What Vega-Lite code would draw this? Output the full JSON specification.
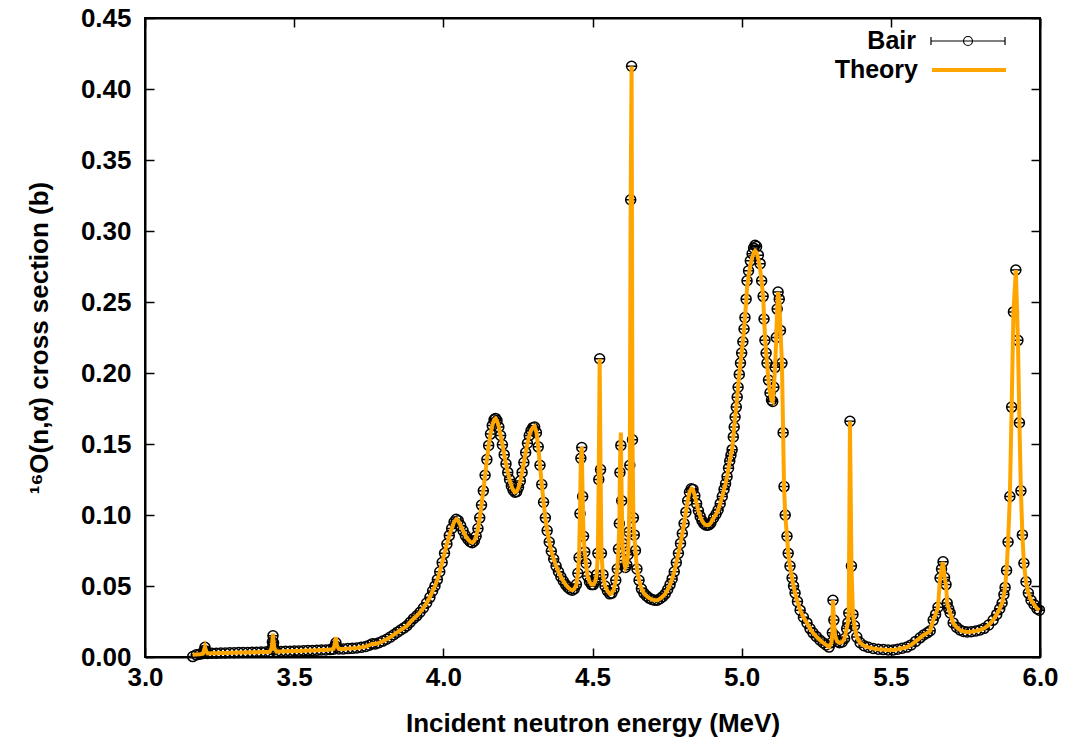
{
"$schema": "https://vega.github.io/schema/vega-lite/v6.json",
"width": 895, "height": 639,
"autosize": "none",
"padding": {"left": 145, "top": 18, "right": 41, "bottom": 83},
"background": "white",
"config": {
  "font": "Liberation Sans",
  "view": {"stroke": "black", "strokeWidth": 2},
  "axis": {"grid": false, "domainColor": "black", "domainWidth": 2, "tickColor": "black", "tickWidth": 1.5, "tickSize": -9,
    "labelFont": "Liberation Sans", "labelFontSize": 26, "labelFontWeight": "bold", "labelColor": "black",
    "titleFont": "Liberation Sans", "titleFontSize": 26, "titleFontWeight": "bold", "titleColor": "black"},
  "legend": {"orient": "none", "title": null, "padding": 0,
    "symbolSize": 784, "rowPadding": 0, "labelAlign": "right", "labelOffset": -67,
    "labelFont": "Liberation Sans", "labelFontSize": 25, "labelFontWeight": "bold", "labelColor": "black", "labelLimit": 400}
},
"resolve": {"scale": {"color": "independent"}, "legend": {"color": "independent"}},
"data": {"values": [
{"E":3.160,"b":0.0003,"t":0.0015},{"E":3.172,"b":0.0015,"t":0.0018},{"E":3.184,"b":0.0020,"t":0.0020},{"E":3.194,"b":0.0024,"t":0.0023},
{"E":3.198,"b":0.0045,"t":0.0050},{"E":3.201,"b":0.0068,"t":0.0070},{"E":3.204,"b":0.0042,"t":0.0045},{"E":3.210,"b":0.0025,"t":0.0025},
{"E":3.224,"b":0.0026,"t":0.0026},{"E":3.239,"b":0.0027,"t":0.0027},{"E":3.254,"b":0.0028,"t":0.0028},{"E":3.269,"b":0.0029,"t":0.0029},
{"E":3.284,"b":0.0030,"t":0.0030},{"E":3.299,"b":0.0030,"t":0.0030},{"E":3.314,"b":0.0031,"t":0.0031},{"E":3.329,"b":0.0032,"t":0.0032},
{"E":3.344,"b":0.0032,"t":0.0032},{"E":3.359,"b":0.0033,"t":0.0033},{"E":3.374,"b":0.0034,"t":0.0034},{"E":3.389,"b":0.0035,"t":0.0035},
{"E":3.404,"b":0.0036,"t":0.0036},{"E":3.418,"b":0.0037,"t":0.0037},{"E":3.424,"b":0.0055,"t":0.0060},{"E":3.427,"b":0.0105,"t":0.0110},
{"E":3.429,"b":0.0150,"t":0.0165},{"E":3.431,"b":0.0100,"t":0.0105},{"E":3.434,"b":0.0055,"t":0.0060},{"E":3.441,"b":0.0038,"t":0.0038},
{"E":3.456,"b":0.0039,"t":0.0039},{"E":3.471,"b":0.0040,"t":0.0040},{"E":3.486,"b":0.0041,"t":0.0041},{"E":3.501,"b":0.0042,"t":0.0042},
{"E":3.516,"b":0.0043,"t":0.0043},{"E":3.531,"b":0.0044,"t":0.0044},{"E":3.546,"b":0.0045,"t":0.0045},{"E":3.561,"b":0.0046,"t":0.0046},
{"E":3.576,"b":0.0047,"t":0.0047},{"E":3.591,"b":0.0049,"t":0.0049},{"E":3.606,"b":0.0050,"t":0.0050},{"E":3.621,"b":0.0052,"t":0.0052},
{"E":3.632,"b":0.0055,"t":0.0058},{"E":3.637,"b":0.0080,"t":0.0100},{"E":3.640,"b":0.0100,"t":0.0140},{"E":3.643,"b":0.0070,"t":0.0080},
{"E":3.650,"b":0.0056,"t":0.0056},{"E":3.665,"b":0.0057,"t":0.0057},{"E":3.680,"b":0.0059,"t":0.0059},{"E":3.695,"b":0.0061,"t":0.0061},
{"E":3.710,"b":0.0064,"t":0.0064},{"E":3.725,"b":0.0068,"t":0.0068},{"E":3.740,"b":0.0074,"t":0.0074},{"E":3.752,"b":0.0083,"t":0.0083},
{"E":3.762,"b":0.0093,"t":0.0093},{"E":3.772,"b":0.0092,"t":0.0092},{"E":3.784,"b":0.0100,"t":0.0100},{"E":3.797,"b":0.0112,"t":0.0112},
{"E":3.810,"b":0.0125,"t":0.0125},{"E":3.822,"b":0.0140,"t":0.0140},{"E":3.834,"b":0.0157,"t":0.0157},{"E":3.846,"b":0.0175,"t":0.0175},
{"E":3.857,"b":0.0190,"t":0.0190},{"E":3.868,"b":0.0205,"t":0.0205},{"E":3.878,"b":0.0220,"t":0.0220},{"E":3.889,"b":0.0245,"t":0.0245},
{"E":3.900,"b":0.0270,"t":0.0270},{"E":3.911,"b":0.0290,"t":0.0290},{"E":3.922,"b":0.0315,"t":0.0315},{"E":3.933,"b":0.0345,"t":0.0345},
{"E":3.944,"b":0.0380,"t":0.0380},{"E":3.955,"b":0.0420,"t":0.0420},{"E":3.964,"b":0.0465,"t":0.0465},{"E":3.972,"b":0.0500,"t":0.0500},
{"E":3.980,"b":0.0545,"t":0.0545},{"E":3.988,"b":0.0600,"t":0.0600},{"E":3.996,"b":0.0665,"t":0.0665},{"E":4.004,"b":0.0730,"t":0.0730},
{"E":4.012,"b":0.0795,"t":0.0795},{"E":4.020,"b":0.0855,"t":0.0855},{"E":4.028,"b":0.0905,"t":0.0905},{"E":4.036,"b":0.0950,"t":0.0950},
{"E":4.043,"b":0.0970,"t":0.0970},{"E":4.050,"b":0.0960,"t":0.0960},{"E":4.058,"b":0.0925,"t":0.0925},{"E":4.066,"b":0.0890,"t":0.0890},
{"E":4.074,"b":0.0855,"t":0.0855},{"E":4.082,"b":0.0830,"t":0.0830},{"E":4.090,"b":0.0812,"t":0.0812},{"E":4.097,"b":0.0805,"t":0.0805},
{"E":4.104,"b":0.0818,"t":0.0818},{"E":4.110,"b":0.0850,"t":0.0850},{"E":4.116,"b":0.0905,"t":0.0905},{"E":4.122,"b":0.0980,"t":0.0980},
{"E":4.128,"b":0.1070,"t":0.1070},{"E":4.134,"b":0.1170,"t":0.1170},{"E":4.140,"b":0.1280,"t":0.1280},{"E":4.146,"b":0.1390,"t":0.1390},
{"E":4.152,"b":0.1490,"t":0.1490},{"E":4.158,"b":0.1570,"t":0.1570},{"E":4.164,"b":0.1630,"t":0.1630},{"E":4.170,"b":0.1670,"t":0.1670},
{"E":4.175,"b":0.1680,"t":0.1680},{"E":4.180,"b":0.1665,"t":0.1665},{"E":4.186,"b":0.1620,"t":0.1620},{"E":4.192,"b":0.1560,"t":0.1560},
{"E":4.198,"b":0.1495,"t":0.1495},{"E":4.204,"b":0.1425,"t":0.1425},{"E":4.210,"b":0.1360,"t":0.1360},{"E":4.216,"b":0.1300,"t":0.1300},
{"E":4.222,"b":0.1250,"t":0.1250},{"E":4.228,"b":0.1205,"t":0.1205},{"E":4.234,"b":0.1175,"t":0.1175},{"E":4.240,"b":0.1160,"t":0.1160},
{"E":4.246,"b":0.1165,"t":0.1165},{"E":4.252,"b":0.1195,"t":0.1195},{"E":4.258,"b":0.1240,"t":0.1240},{"E":4.264,"b":0.1300,"t":0.1300},
{"E":4.270,"b":0.1370,"t":0.1370},{"E":4.276,"b":0.1440,"t":0.1440},{"E":4.282,"b":0.1505,"t":0.1505},{"E":4.288,"b":0.1560,"t":0.1560},
{"E":4.294,"b":0.1595,"t":0.1595},{"E":4.300,"b":0.1615,"t":0.1615},{"E":4.306,"b":0.1620,"t":0.1625},{"E":4.312,"b":0.1580,"t":0.1585},
{"E":4.318,"b":0.1480,"t":0.1480},{"E":4.324,"b":0.1350,"t":0.1350},{"E":4.330,"b":0.1215,"t":0.1215},{"E":4.336,"b":0.1090,"t":0.1090},
{"E":4.342,"b":0.0980,"t":0.0980},{"E":4.348,"b":0.0890,"t":0.0890},{"E":4.355,"b":0.0810,"t":0.0810},{"E":4.362,"b":0.0745,"t":0.0745},
{"E":4.370,"b":0.0690,"t":0.0690},{"E":4.378,"b":0.0640,"t":0.0640},{"E":4.386,"b":0.0600,"t":0.0600},{"E":4.394,"b":0.0565,"t":0.0565},
{"E":4.402,"b":0.0535,"t":0.0535},{"E":4.410,"b":0.0510,"t":0.0510},{"E":4.418,"b":0.0490,"t":0.0490},{"E":4.425,"b":0.0477,"t":0.0477},
{"E":4.432,"b":0.0470,"t":0.0470},{"E":4.439,"b":0.0480,"t":0.0480},{"E":4.446,"b":0.0510,"t":0.0510},{"E":4.451,"b":0.0590,"t":0.0590},
{"E":4.455,"b":0.0700,"t":0.0700},{"E":4.458,"b":0.1010,"t":0.1010},{"E":4.461,"b":0.1400,"t":0.1400},{"E":4.464,"b":0.1475,"t":0.1480},
{"E":4.467,"b":0.1130,"t":0.1130},{"E":4.470,"b":0.0850,"t":0.0850},{"E":4.474,"b":0.0740,"t":0.0740},{"E":4.478,"b":0.0660,"t":0.0660},
{"E":4.483,"b":0.0570,"t":0.0570},{"E":4.490,"b":0.0530,"t":0.0530},{"E":4.497,"b":0.0510,"t":0.0510},{"E":4.503,"b":0.0510,"t":0.0510},
{"E":4.509,"b":0.0530,"t":0.0530},{"E":4.514,"b":0.0580,"t":0.0580},{"E":4.518,"b":0.0730,"t":0.0730},{"E":4.521,"b":0.1250,"t":0.1300},
{"E":4.524,"b":0.2100,"t":0.2100},{"E":4.527,"b":0.1320,"t":0.1320},{"E":4.530,"b":0.0730,"t":0.0730},{"E":4.535,"b":0.0580,"t":0.0580},
{"E":4.542,"b":0.0500,"t":0.0500},{"E":4.550,"b":0.0465,"t":0.0465},{"E":4.558,"b":0.0445,"t":0.0445},{"E":4.565,"b":0.0450,"t":0.0450},
{"E":4.572,"b":0.0480,"t":0.0480},{"E":4.578,"b":0.0540,"t":0.0540},{"E":4.583,"b":0.0620,"t":0.0620},{"E":4.587,"b":0.0760,"t":0.0760},
{"E":4.590,"b":0.0940,"t":0.0940},{"E":4.592,"b":0.1300,"t":0.1350},{"E":4.595,"b":0.1490,"t":0.1580},{"E":4.598,"b":0.1100,"t":0.1100},
{"E":4.601,"b":0.0800,"t":0.0800},{"E":4.605,"b":0.0680,"t":0.0680},{"E":4.610,"b":0.0630,"t":0.0630},{"E":4.615,"b":0.0650,"t":0.0650},
{"E":4.619,"b":0.0720,"t":0.0720},{"E":4.622,"b":0.0880,"t":0.0880},{"E":4.625,"b":0.1350,"t":0.1350},{"E":4.628,"b":0.3220,"t":0.3220},
{"E":4.631,"b":0.4160,"t":0.4160},{"E":4.634,"b":0.1530,"t":0.1530},{"E":4.637,"b":0.0980,"t":0.0980},{"E":4.640,"b":0.0860,"t":0.0860},
{"E":4.644,"b":0.0750,"t":0.0750},{"E":4.649,"b":0.0620,"t":0.0620},{"E":4.656,"b":0.0540,"t":0.0540},{"E":4.664,"b":0.0480,"t":0.0480},
{"E":4.672,"b":0.0450,"t":0.0450},{"E":4.681,"b":0.0430,"t":0.0430},{"E":4.690,"b":0.0415,"t":0.0415},{"E":4.699,"b":0.0405,"t":0.0405},
{"E":4.708,"b":0.0400,"t":0.0400},{"E":4.717,"b":0.0400,"t":0.0400},{"E":4.726,"b":0.0410,"t":0.0410},{"E":4.735,"b":0.0425,"t":0.0425},
{"E":4.744,"b":0.0445,"t":0.0445},{"E":4.752,"b":0.0475,"t":0.0475},{"E":4.760,"b":0.0510,"t":0.0510},{"E":4.767,"b":0.0550,"t":0.0550},
{"E":4.774,"b":0.0600,"t":0.0600},{"E":4.781,"b":0.0665,"t":0.0665},{"E":4.788,"b":0.0730,"t":0.0730},{"E":4.795,"b":0.0800,"t":0.0800},
{"E":4.801,"b":0.0870,"t":0.0870},{"E":4.807,"b":0.0940,"t":0.0940},{"E":4.813,"b":0.1020,"t":0.1020},{"E":4.819,"b":0.1100,"t":0.1100},
{"E":4.825,"b":0.1160,"t":0.1160},{"E":4.831,"b":0.1185,"t":0.1185},{"E":4.837,"b":0.1180,"t":0.1180},{"E":4.843,"b":0.1135,"t":0.1135},
{"E":4.849,"b":0.1080,"t":0.1080},{"E":4.855,"b":0.1030,"t":0.1030},{"E":4.861,"b":0.0990,"t":0.0990},{"E":4.867,"b":0.0960,"t":0.0960},
{"E":4.873,"b":0.0940,"t":0.0940},{"E":4.879,"b":0.0930,"t":0.0930},{"E":4.885,"b":0.0928,"t":0.0928},{"E":4.891,"b":0.0932,"t":0.0932},
{"E":4.897,"b":0.0945,"t":0.0945},{"E":4.906,"b":0.0980,"t":0.0980},{"E":4.914,"b":0.1005,"t":0.1005},{"E":4.921,"b":0.1035,"t":0.1035},
{"E":4.928,"b":0.1080,"t":0.1080},{"E":4.935,"b":0.1130,"t":0.1130},{"E":4.941,"b":0.1180,"t":0.1180},{"E":4.946,"b":0.1220,"t":0.1220},
{"E":4.951,"b":0.1270,"t":0.1270},{"E":4.956,"b":0.1330,"t":0.1330},{"E":4.960,"b":0.1380,"t":0.1380},{"E":4.964,"b":0.1420,"t":0.1420},
{"E":4.968,"b":0.1460,"t":0.1460},{"E":4.972,"b":0.1550,"t":0.1550},{"E":4.975,"b":0.1620,"t":0.1620},{"E":4.978,"b":0.1690,"t":0.1690},
{"E":4.982,"b":0.1760,"t":0.1760},{"E":4.985,"b":0.1830,"t":0.1830},{"E":4.988,"b":0.1900,"t":0.1900},{"E":4.992,"b":0.1990,"t":0.1990},
{"E":4.996,"b":0.2070,"t":0.2070},{"E":5.000,"b":0.2140,"t":0.2140},{"E":5.004,"b":0.2220,"t":0.2220},{"E":5.008,"b":0.2310,"t":0.2310},
{"E":5.011,"b":0.2390,"t":0.2390},{"E":5.015,"b":0.2520,"t":0.2500},{"E":5.018,"b":0.2650,"t":0.2600},{"E":5.023,"b":0.2720,"t":0.2680},
{"E":5.029,"b":0.2790,"t":0.2760},{"E":5.035,"b":0.2840,"t":0.2810},{"E":5.040,"b":0.2880,"t":0.2845},{"E":5.045,"b":0.2900,"t":0.2860},
{"E":5.050,"b":0.2890,"t":0.2850},{"E":5.056,"b":0.2830,"t":0.2800},{"E":5.062,"b":0.2770,"t":0.2730},{"E":5.067,"b":0.2650,"t":0.2640},
{"E":5.072,"b":0.2540,"t":0.2540},{"E":5.075,"b":0.2380,"t":0.2400},{"E":5.078,"b":0.2230,"t":0.2260},{"E":5.082,"b":0.2140,"t":0.2140},
{"E":5.085,"b":0.2070,"t":0.2070},{"E":5.090,"b":0.1950,"t":0.1950},{"E":5.095,"b":0.1860,"t":0.1860},{"E":5.100,"b":0.1810,"t":0.1810},
{"E":5.104,"b":0.1800,"t":0.1800},{"E":5.108,"b":0.1900,"t":0.1900},{"E":5.112,"b":0.2040,"t":0.2040},{"E":5.116,"b":0.2250,"t":0.2250},
{"E":5.119,"b":0.2450,"t":0.2450},{"E":5.122,"b":0.2570,"t":0.2570},{"E":5.126,"b":0.2520,"t":0.2520},{"E":5.130,"b":0.2300,"t":0.2300},
{"E":5.135,"b":0.2070,"t":0.2070},{"E":5.139,"b":0.1580,"t":0.1580},{"E":5.142,"b":0.1200,"t":0.1200},{"E":5.146,"b":0.1000,"t":0.1000},
{"E":5.152,"b":0.0850,"t":0.0850},{"E":5.156,"b":0.0730,"t":0.0730},{"E":5.162,"b":0.0640,"t":0.0640},{"E":5.169,"b":0.0556,"t":0.0556},
{"E":5.174,"b":0.0500,"t":0.0500},{"E":5.179,"b":0.0450,"t":0.0450},{"E":5.187,"b":0.0390,"t":0.0390},{"E":5.196,"b":0.0330,"t":0.0330},
{"E":5.207,"b":0.0280,"t":0.0280},{"E":5.219,"b":0.0240,"t":0.0240},{"E":5.229,"b":0.0200,"t":0.0200},{"E":5.239,"b":0.0170,"t":0.0170},
{"E":5.250,"b":0.0145,"t":0.0145},{"E":5.262,"b":0.0120,"t":0.0120},{"E":5.273,"b":0.0100,"t":0.0100},{"E":5.283,"b":0.0085,"t":0.0085},
{"E":5.293,"b":0.0070,"t":0.0070},{"E":5.301,"b":0.0100,"t":0.0100},{"E":5.304,"b":0.0170,"t":0.0170},{"E":5.306,"b":0.0400,"t":0.0400},
{"E":5.309,"b":0.0260,"t":0.0260},{"E":5.313,"b":0.0150,"t":0.0150},{"E":5.320,"b":0.0110,"t":0.0110},{"E":5.328,"b":0.0100,"t":0.0100},
{"E":5.337,"b":0.0106,"t":0.0106},{"E":5.345,"b":0.0130,"t":0.0130},{"E":5.352,"b":0.0200,"t":0.0200},{"E":5.356,"b":0.0240,"t":0.0240},
{"E":5.359,"b":0.0310,"t":0.0310},{"E":5.363,"b":0.1660,"t":0.1660},{"E":5.368,"b":0.0640,"t":0.0640},{"E":5.373,"b":0.0300,"t":0.0300},
{"E":5.378,"b":0.0220,"t":0.0220},{"E":5.386,"b":0.0140,"t":0.0140},{"E":5.397,"b":0.0100,"t":0.0100},{"E":5.410,"b":0.0080,"t":0.0080},
{"E":5.425,"b":0.0068,"t":0.0068},{"E":5.441,"b":0.0060,"t":0.0060},{"E":5.458,"b":0.0055,"t":0.0055},{"E":5.475,"b":0.0052,"t":0.0052},
{"E":5.491,"b":0.0050,"t":0.0050},{"E":5.508,"b":0.0050,"t":0.0050},{"E":5.523,"b":0.0055,"t":0.0055},{"E":5.538,"b":0.0062,"t":0.0062},
{"E":5.554,"b":0.0070,"t":0.0070},{"E":5.568,"b":0.0085,"t":0.0085},{"E":5.583,"b":0.0110,"t":0.0110},{"E":5.598,"b":0.0135,"t":0.0135},
{"E":5.610,"b":0.0155,"t":0.0155},{"E":5.622,"b":0.0170,"t":0.0170},{"E":5.632,"b":0.0185,"t":0.0185},{"E":5.642,"b":0.0260,"t":0.0260},
{"E":5.650,"b":0.0300,"t":0.0300},{"E":5.658,"b":0.0350,"t":0.0350},{"E":5.665,"b":0.0556,"t":0.0556},{"E":5.670,"b":0.0620,"t":0.0620},
{"E":5.675,"b":0.0670,"t":0.0670},{"E":5.680,"b":0.0560,"t":0.0560},{"E":5.685,"b":0.0510,"t":0.0510},{"E":5.689,"b":0.0380,"t":0.0380},
{"E":5.694,"b":0.0340,"t":0.0340},{"E":5.699,"b":0.0310,"t":0.0310},{"E":5.709,"b":0.0240,"t":0.0240},{"E":5.720,"b":0.0210,"t":0.0210},
{"E":5.732,"b":0.0190,"t":0.0190},{"E":5.744,"b":0.0180,"t":0.0180},{"E":5.756,"b":0.0176,"t":0.0176},{"E":5.770,"b":0.0178,"t":0.0178},
{"E":5.785,"b":0.0183,"t":0.0183},{"E":5.799,"b":0.0190,"t":0.0190},{"E":5.813,"b":0.0202,"t":0.0202},{"E":5.828,"b":0.0225,"t":0.0225},
{"E":5.843,"b":0.0260,"t":0.0260},{"E":5.855,"b":0.0300,"t":0.0300},{"E":5.865,"b":0.0340,"t":0.0340},{"E":5.873,"b":0.0380,"t":0.0380},
{"E":5.879,"b":0.0440,"t":0.0440},{"E":5.883,"b":0.0490,"t":0.0490},{"E":5.888,"b":0.0610,"t":0.0610},{"E":5.893,"b":0.0810,"t":0.0810},
{"E":5.899,"b":0.1130,"t":0.1130},{"E":5.905,"b":0.1760,"t":0.1760},{"E":5.911,"b":0.2430,"t":0.2430},{"E":5.919,"b":0.2725,"t":0.2725},
{"E":5.926,"b":0.2230,"t":0.2230},{"E":5.931,"b":0.1650,"t":0.1650},{"E":5.936,"b":0.1170,"t":0.1170},{"E":5.941,"b":0.0860,"t":0.0860},
{"E":5.946,"b":0.0660,"t":0.0660},{"E":5.953,"b":0.0530,"t":0.0530},{"E":5.961,"b":0.0450,"t":0.0450},{"E":5.970,"b":0.0400,"t":0.0400},
{"E":5.980,"b":0.0370,"t":0.0370},{"E":5.990,"b":0.0340,"t":0.0340},{"E":5.998,"b":0.0330,"t":0.0330}
]},
"layer": [
 {"mark": {"type": "point", "shape": "M-1,0A1,1,0,1,1,1,0A1,1,0,1,1,-1,0ZM-1,0L1,0", "filled": false, "size": 100, "strokeWidth": 1.5, "opacity": 1},
  "encoding": {
   "x": {"field": "E", "type": "quantitative", "scale": {"domain": [3, 6], "nice": false, "zero": false},
     "axis": {"orient": "bottom", "values": [3, 3.5, 4, 4.5, 5, 5.5, 6], "format": ".1f", "labelFlush": false, "labelOverlap": false,
       "title": "Incident neutron energy (MeV)", "labelPadding": 16, "titlePadding": 20}},
   "y": {"field": "b", "type": "quantitative", "scale": {"domain": [0, 0.45], "nice": false, "zero": false},
     "axis": {"orient": "left", "values": [0, 0.05, 0.1, 0.15, 0.2, 0.25, 0.3, 0.35, 0.4, 0.45], "format": ".2f", "labelOverlap": false,
       "title": "¹⁶O(n,α) cross section (b)", "labelPadding": 23, "titlePadding": 28}},
   "color": {"datum": "Bair", "type": "nominal",
     "scale": {"domain": ["Bair"], "range": ["black"]},
     "legend": {"legendX": 808, "legendY": 8,
       "symbolType": "M-2.643,0H-0.32M0.32,0H2.643M-2.643,-0.29V0.29M2.643,-0.29V0.29M0.32,0A0.32,0.32,0,1,1,-0.32,0A0.32,0.32,0,1,1,0.32,0M-0.32,0H0.32",
       "symbolStrokeWidth": 1.2, "symbolStrokeColor": "black", "symbolFillColor": "transparent", "symbolOpacity": 1}}
  }},
 {"mark": {"type": "line", "strokeWidth": 4, "clip": true},
  "encoding": {
   "x": {"field": "E", "type": "quantitative",
     "axis": {"orient": "top", "values": [3, 3.5, 4, 4.5, 5, 5.5, 6], "labels": false, "title": null}},
   "y": {"field": "t", "type": "quantitative",
     "axis": {"orient": "right", "values": [0, 0.05, 0.1, 0.15, 0.2, 0.25, 0.3, 0.35, 0.4, 0.45], "labels": false, "title": null}},
   "color": {"datum": "Theory", "type": "nominal",
     "scale": {"domain": ["Theory"], "range": ["#FFA500"]},
     "legend": {"legendX": 808, "legendY": 36,
       "symbolType": "M-2.643,0H2.643", "symbolStrokeWidth": 4, "symbolStrokeColor": "#FFA500", "symbolOpacity": 1}}
  }}
]
}
